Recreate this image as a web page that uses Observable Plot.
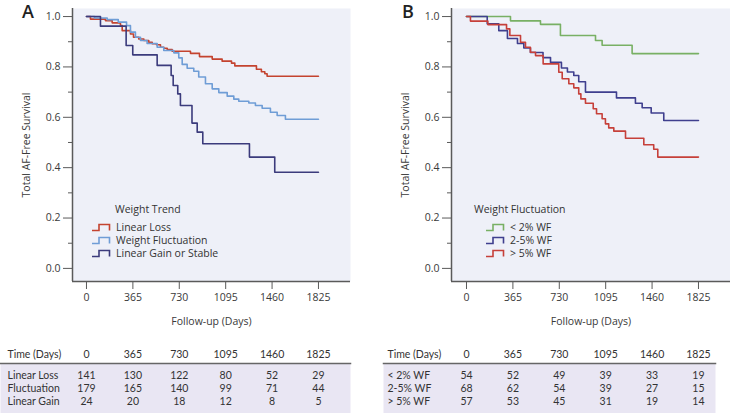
<!DOCTYPE html>
<html><head><meta charset="utf-8">
<script src="https://cdn.jsdelivr.net/npm/d3@7"></script>
<script src="https://cdn.jsdelivr.net/npm/@observablehq/plot@0.6"></script>
<style>
body{margin:0;background:#fff;font-family:"Open Sans",sans-serif;}
#root{position:relative;width:730px;height:413px;overflow:hidden;}
.panel{position:absolute;top:0;width:365px;height:413px;}
.panel svg{display:block;}
.plbl{position:absolute;top:2px;font-size:18px;line-height:18px;font-weight:600;color:#222;}
.legend{position:absolute;font-size:10.5px;color:#333;line-height:13px;}
.legend .item{display:flex;align-items:center;height:13px;}
.legend .item svg{margin-right:5px;}
</style></head>
<body><div id="root"></div>
<script>
// ---- axis ticks ----
const xTicks = [0, 365, 730, 1095, 1460, 1825];
const yTicks = [0, 0.2, 0.4, 0.6, 0.8, 1.0];
const yMinor = [0.1, 0.3, 0.5, 0.7, 0.9];

// ---- Panel A: Weight Trend ----
const trendNames = ["Linear Loss", "Weight Fluctuation", "Linear Gain or Stable"];
const trendColors = ["#c4432f", "#6f9dd6", "#3b3b7c"];
const lossDays = [0, 31, 149, 202, 267, 281, 346, 370, 411, 451, 490, 517, 551, 582, 608, 635, 674, 818, 889, 989, 1067, 1141, 1167, 1337, 1376, 1403, 1421, 1825];
const lossSurv = [1.0, 0.99, 0.984, 0.975, 0.964, 0.944, 0.931, 0.918, 0.911, 0.905, 0.898, 0.892, 0.888, 0.878, 0.874, 0.869, 0.862, 0.854, 0.841, 0.831, 0.823, 0.815, 0.804, 0.791, 0.781, 0.773, 0.763, 0.763];
const flucDays = [0, 63, 163, 250, 315, 346, 385, 425, 477, 556, 608, 687, 726, 753, 792, 844, 883, 936, 989, 1041, 1107, 1159, 1198, 1277, 1329, 1382, 1447, 1500, 1565, 1825];
const flucSurv = [1.0, 0.994, 0.988, 0.978, 0.964, 0.938, 0.918, 0.905, 0.893, 0.878, 0.865, 0.856, 0.836, 0.81, 0.795, 0.783, 0.76, 0.733, 0.713, 0.698, 0.684, 0.672, 0.664, 0.657, 0.647, 0.636, 0.62, 0.607, 0.592, 0.592];
const gainDays = [0, 110, 312, 364, 556, 666, 682, 718, 739, 830, 871, 915, 1282, 1481, 1825];
const gainSurv = [1.0, 0.962, 0.885, 0.848, 0.806, 0.766, 0.726, 0.693, 0.647, 0.577, 0.541, 0.495, 0.442, 0.382, 0.382];

// ---- Panel B: Weight Fluctuation ----
const wfNames = ["< 2% WF", "2-5% WF", "> 5% WF"];
const wfColors = ["#78b064", "#3f3f8e", "#c6403a"];
const lowDays = [0, 346, 582, 739, 1015, 1067, 1303, 1825];
const lowSurv = [1.0, 0.983, 0.969, 0.925, 0.905, 0.886, 0.853, 0.853];
const midDays = [0, 163, 254, 322, 401, 451, 503, 602, 661, 747, 794, 844, 883, 936, 1180, 1329, 1382, 1453, 1552, 1825];
const midSurv = [1.0, 0.971, 0.944, 0.913, 0.893, 0.875, 0.857, 0.837, 0.818, 0.796, 0.78, 0.766, 0.741, 0.700, 0.677, 0.656, 0.638, 0.617, 0.587, 0.587];
const highDays = [0, 31, 168, 315, 341, 425, 464, 503, 543, 603, 726, 753, 805, 844, 883, 900, 936, 997, 1023, 1067, 1093, 1119, 1159, 1251, 1395, 1473, 1505, 1825];
const highSurv = [1.0, 0.982, 0.968, 0.951, 0.925, 0.898, 0.878, 0.858, 0.845, 0.812, 0.779, 0.753, 0.733, 0.717, 0.693, 0.673, 0.656, 0.634, 0.614, 0.594, 0.574, 0.558, 0.545, 0.517, 0.491, 0.473, 0.442, 0.442];

// ---- Number at risk tables ----
const riskHeader = "Time (Days)";
const trendRowNames = ["Linear Loss", "Fluctuation", "Linear Gain"];
const riskLoss = [141, 130, 122, 80, 52, 29];
const riskFluc = [179, 165, 140, 99, 71, 44];
const riskGain = [24, 20, 18, 12, 8, 5];
const wfRowNames = ["< 2% WF", "2-5% WF", "> 5% WF"];
const riskLow = [54, 52, 49, 39, 33, 19];
const riskMid = [68, 62, 54, 39, 27, 15];
const riskHigh = [57, 53, 45, 31, 19, 14];

const FONT = "Open Sans";
const BG = "#eef0f8";
const TBG = "#e9e6f3";
const AX = "#5a5a5a";

function series(name, days, surv) { return days.map((d, i) => ({group: name, day: d, surv: surv[i]})); }

function chart(data, names, colors, o) {
  const xDom = o.xDom, yDom = [-0.052, 1.032];
  return Plot.plot({
    width: 365, height: 335,
    marginLeft: o.ml, marginRight: o.mr, marginTop: 8, marginBottom: 54,
    style: {fontFamily: FONT, fontSize: "10.5px", color: "#3a3a3a", background: "transparent", overflow: "visible"},
    x: {domain: xDom, label: null},
    y: {domain: yDom, label: null},
    color: {domain: names, range: colors},
    marks: [
      Plot.frame({fill: BG, stroke: null}),
      Plot.axisY(yMinor, {tickSize: 4, tickFormat: () => "", label: null, stroke: AX}),
      Plot.axisY(yTicks, {tickSize: 9, tickPadding: 3, tickFormat: d3.format(".1f"), stroke: AX,
        label: "Total AF-Free Survival", labelAnchor: "center", labelOffset: 50, labelArrow: "none"}),
      Plot.axisX(xTicks, {tickSize: 8, tickPadding: 4, tickFormat: d => String(d), stroke: AX,
        label: "Follow-up (Days)", labelAnchor: "center", labelOffset: 43, labelArrow: "none"}),
      Plot.ruleX([xDom[0]], {stroke: AX, strokeWidth: 1.5}),
      Plot.ruleY([yDom[0]], {stroke: AX, strokeWidth: 1.5}),
      Plot.line(data, {x: "day", y: "surv", z: "group", stroke: "group", curve: "step-after", strokeWidth: 1.6})
    ]
  });
}

function table(rowNames, rows, o) {
  const cells = rows.flatMap((r, j) => r.map((v, i) => ({row: rowNames[j], day: xTicks[i], v})));
  return Plot.plot({
    width: 365, height: 78,
    marginLeft: o.ml, marginRight: 15, marginTop: 28, marginBottom: 0,
    style: {fontFamily: "Lato", fontSize: "10.5px", color: "#333", background: "transparent", overflow: "visible"},
    x: {domain: o.xDom, axis: null},
    y: {type: "point", domain: rowNames, padding: 0.92, axis: null},
    marks: [
      Plot.frame({fill: TBG, stroke: null}),
      Plot.frame({anchor: "top", stroke: "#666", strokeWidth: 1.5}),
      Plot.text(xTicks, {x: d => d, text: d => String(d), frameAnchor: "top", lineAnchor: "middle", dy: -9}),
      Plot.text([riskHeader], {text: d => d, frameAnchor: "top-left", lineAnchor: "middle", dx: o.dx, dy: -9, textAnchor: "start"}),
      Plot.text(rowNames, {y: d => d, text: d => d, frameAnchor: "left", dx: o.dx, textAnchor: "start"}),
      Plot.text(cells, {x: "day", y: "row", text: "v"})
    ]
  });
}

function legend(title, names, colors, o) {
  const div = document.createElement("div");
  div.className = "legend";
  div.style.left = o.left + "px"; div.style.top = o.top + "px";
  const t = document.createElement("div");
  t.textContent = title; t.style.marginLeft = o.titleDx + "px"; t.style.marginBottom = "5px"; t.style.height = "13px";
  div.appendChild(t);
  names.forEach((n, i) => {
    const it = document.createElement("div"); it.className = "item";
    it.style.marginLeft = o.itemDx + "px";
    it.innerHTML = `<svg width="19" height="9"><path d="M0,7.5H7V1.5H17.5V7.5" fill="none" stroke="${colors[i]}" stroke-width="1.6"/></svg><span>${n}</span>`;
    div.appendChild(it);
  });
  return div;
}

const root = document.getElementById("root");
function panel(left, letter, letterLeft, chartEl, tableEl, legendEl) {
  const p = document.createElement("div"); p.className = "panel"; p.style.left = left + "px";
  p.appendChild(chartEl); p.appendChild(tableEl);
  const l = document.createElement("div"); l.className = "plbl"; l.textContent = letter; l.style.left = letterLeft + "px";
  p.appendChild(l); p.appendChild(legendEl);
  root.appendChild(p);
}

const dataA = [...series(trendNames[0], lossDays, lossSurv), ...series(trendNames[1], flucDays, flucSurv), ...series(trendNames[2], gainDays, gainSurv)];
const dataB = [...series(wfNames[0], lowDays, lowSurv), ...series(wfNames[1], midDays, midSurv), ...series(wfNames[2], highDays, highSurv)];

panel(0, "A", 22,
  chart(dataA, trendNames, trendColors, {ml: 72, mr: 15, xDom: [-110, 2077]}),
  table(trendRowNames, [riskLoss, riskFluc, riskGain], {ml: 0, dx: 7, xDom: [-676.5, 2077]}),
  legend("Weight Trend", trendNames, trendColors, {left: 92, top: 203, titleDx: 23, itemDx: 0}));
panel(365, "B", 37,
  chart(dataB, wfNames, wfColors, {ml: 86, mr: 0, xDom: [-118, 2077]}),
  table(wfRowNames, [riskLow, riskMid, riskHigh], {ml: 18, dx: 4, xDom: [-653, 1959]}),
  legend("Weight Fluctuation", wfNames, wfColors, {left: 109, top: 203, titleDx: 0, itemDx: 12}));
</script></body></html>
